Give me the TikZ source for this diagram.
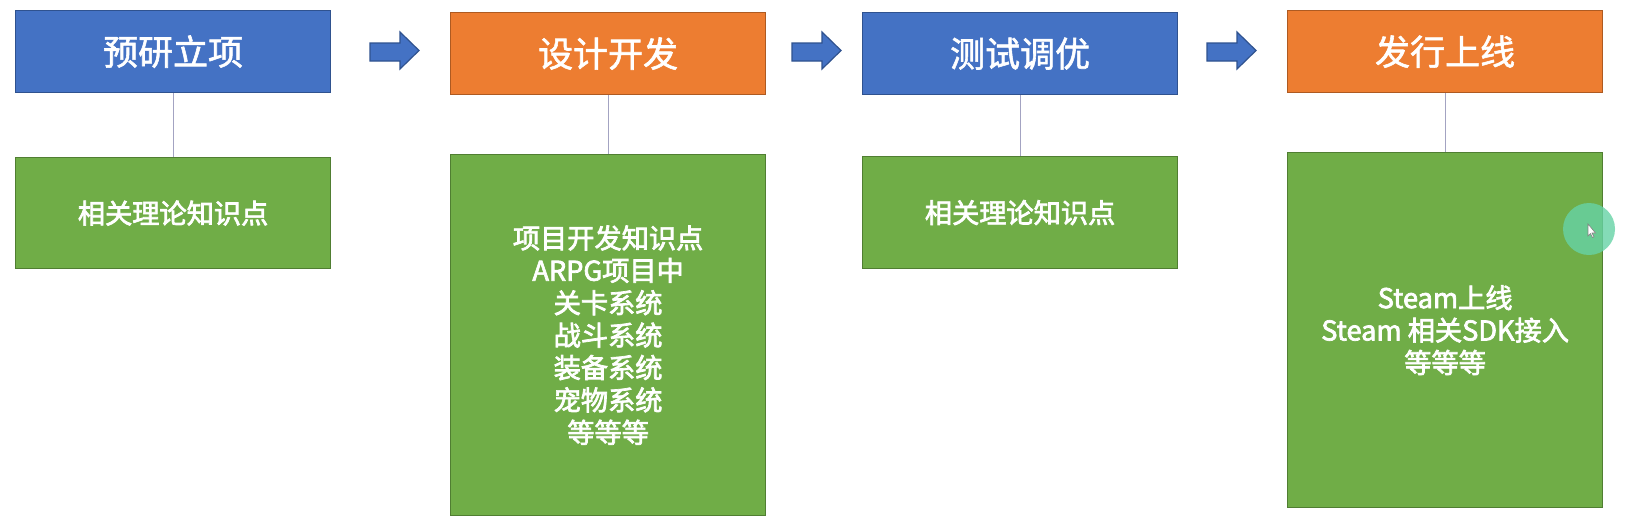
\documentclass[tikz,border=0pt]{standalone}
\usepackage{fontspec}
\setmainfont{Noto Sans CJK SC}
\newfontfamily\headfont{Noto Sans CJK SC}[FakeBold=1.6]
\newfontfamily\bodyfont{Noto Sans CJK SC}[FakeBold=2.6]
\definecolor{hblue}{HTML}{4472C4}
\definecolor{hblueb}{HTML}{2F528F}
\definecolor{horange}{HTML}{ED7D31}
\definecolor{horangeb}{HTML}{AE5A21}
\definecolor{hgreen}{HTML}{70AD47}
\definecolor{hgreenb}{HTML}{507E32}
\definecolor{linkc}{HTML}{A3A3C2}
\definecolor{cursorc}{HTML}{66D3A6}
\tikzset{
  headbox/.style={anchor=north west, inner sep=0pt, line width=0.6pt,
    minimum width=157.5pt, minimum height=41pt, text=white,
    font=\headfont\fontsize{17.5}{21}\selectfont},
  bluebox/.style={headbox, fill=hblue, draw=hblueb},
  orangebox/.style={headbox, fill=horange, draw=horangeb},
  greenbox/.style={anchor=north west, inner sep=0pt, line width=0.6pt,
    minimum width=157.5pt, fill=hgreen, draw=hgreenb, text=white,
    align=center, font=\bodyfont\fontsize{13.6}{16.2}\selectfont},
  link/.style={draw=linkc, line width=0.5pt},
  flowarrow/.style={fill=hblue, draw=hblueb, line width=0.6pt, line join=miter}
}
\begin{document}
\begin{tikzpicture}[x=0.5pt,y=-0.5pt]
\fill[white] (0,0) rectangle (1626,531);
\useasboundingbox (0,0) rectangle (1626,531);

% headers
\node[bluebox]   (h1) at (15,10)   {预研立项};
\node[orangebox] (h2) at (450,12)  {设计开发};
\node[bluebox]   (h3) at (862,12)  {测试调优};
\node[orangebox] (h4) at (1287,10) {发行上线};

% detail boxes
\node[greenbox, minimum height=55.5pt] (g1) at (15,157) {相关理论知识点};
\node[greenbox, minimum height=180.5pt] (g2) at (450,154)
  {项目开发知识点\\ARPG项目中\\关卡系统\\战斗系统\\装备系统\\宠物系统\\等等等};
\node[greenbox, minimum height=56pt] (g3) at (862,156) {相关理论知识点};
\node[greenbox, minimum height=177.5pt] (g4) at (1287,152)
  {Steam上线\\Steam 相关SDK接入\\等等等};

% links
\draw[link] (h1.south) -- (g1.north);
\draw[link] (h2.south) -- (g2.north);
\draw[link] (h3.south) -- (g3.north);
\draw[link] (h4.south) -- (g4.north);

% block arrows
\foreach \x in {370,792,1207}{
  \draw[flowarrow] (\x,43) -- (\x+30,43) -- (\x+30,32) -- (\x+49,50.5)
     -- (\x+30,69) -- (\x+30,61) -- (\x,61) -- cycle;
}

% cursor highlight
\fill[cursorc, opacity=0.8] (1589,229) circle[radius=13pt];
\draw[fill=white, draw=gray, line width=0.3pt] (1588,224) -- (1588,236) -- (1590.5,233.5)
  -- (1592.5,237.5) -- (1594,236.8) -- (1592,233) -- (1595.5,233) -- cycle;
\end{tikzpicture}
\end{document}
